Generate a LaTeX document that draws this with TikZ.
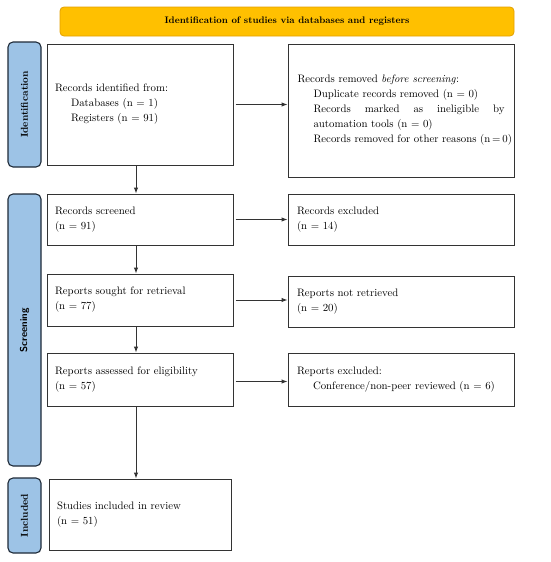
\documentclass[tikz,border=0pt]{standalone}
\usetikzlibrary{arrows.meta}
\definecolor{prismayel}{HTML}{FFC000}
\definecolor{prismaorg}{HTML}{E3A000}
\definecolor{prismablu}{HTML}{9DC3E6}
\definecolor{prismaedge}{HTML}{1E2A38}
\begin{document}
\begin{tikzpicture}[x=1pt,y=-1pt,
  font=\fontsize{10.8}{15}\selectfont,
  box/.style={draw=black!80,line width=1pt,fill=white,align=left,inner xsep=8pt,inner ysep=0pt},
  phase/.style={draw=prismaedge,line width=1.1pt,fill=prismablu,rounded corners=5pt,rotate=90,font=\fontsize{10}{12}\selectfont\bfseries,inner sep=0pt},
  arr/.style={line width=1pt,draw=black!80,-{Latex[length=6pt,width=4.5pt]}}]
\useasboundingbox (0,0) rectangle (550,562);
% header and phase labels
\node[draw=prismaorg,line width=.8pt,fill=prismayel,rounded corners=4pt,minimum width=454pt,minimum height=29pt,font=\fontsize{9.5}{12}\selectfont\bfseries] (head) at (287,21.5) {Identification of studies via databases and registers};
\node[phase,minimum width=125pt,minimum height=33pt] (idlab) at (24.5,104.5) {Identification};
\node[phase,minimum width=272pt,minimum height=33pt,font=\fontsize{10}{12}\selectfont\sffamily\bfseries] (scrlab) at (24.5,330) {Screening};
\node[phase,minimum width=75pt,minimum height=33pt] (inclab) at (24.5,515.5) {Included};
% left column
\node[box,text width=170pt,minimum height=121pt] (ident) at (140,104.5) {Records identified from:\\\hspace*{16pt}Databases (n = 1)\\\hspace*{16pt}Registers (n = 91)};
\node[box,text width=170pt,minimum height=51pt] (screen) at (140,219.5) {Records screened\\(n = 91)};
\node[box,text width=170pt,minimum height=52pt] (sought) at (140,300) {Reports sought for retrieval\\(n = 77)};
\node[box,text width=170pt,minimum height=53pt] (assess) at (140,379.5) {Reports assessed for eligibility\\(n = 57)};
\node[box,text width=166pt,minimum height=71pt] (incl) at (140,514.5) {Studies included in review\\(n = 51)};
% right column
\node[box,align=justify,inner xsep=9.5pt,text width=207pt,minimum height=133pt] (removed) at (401,110.5) {Records removed \textit{before screening}:\par
\leftskip=16pt Duplicate records removed (n = 0)\par
Records marked as ineligible by\linebreak automation tools (n = 0)\par
\mbox{Records removed for other reasons (n\,=\,0)}\par};
\node[box,inner xsep=9pt,text width=208pt,minimum height=51pt] (excl) at (401,219.5) {Records excluded\\(n = 14)};
\node[box,inner xsep=9pt,text width=208pt,minimum height=51pt] (notret) at (401,301.5) {Reports not retrieved\\(n = 20)};
\node[box,inner xsep=9pt,text width=208pt,minimum height=53pt] (rexcl) at (401,379.5) {Reports excluded:\\\hspace*{16pt}Conference/non-peer reviewed (n = 6)\\[2pt]};
% connectors
\draw[arr] ([xshift=2pt]ident.east) -- (ident.east -| removed.west);
\draw[arr] ([xshift=2pt]screen.east) -- (screen.east -| excl.west);
\draw[arr] ([xshift=2pt]sought.east) -- (sought.east -| notret.west);
\draw[arr] ([xshift=2pt,yshift=-2pt]assess.east) -- ([yshift=-2pt]assess.east -| rexcl.west);
\draw[arr] ([xshift=-4pt]ident.south) -- ([xshift=-4pt]ident.south |- screen.north);
\draw[arr] ([xshift=-4pt]screen.south) -- ([xshift=-4pt]screen.south |- sought.north);
\draw[arr] ([xshift=-4pt]sought.south) -- ([xshift=-4pt]sought.south |- assess.north);
\draw[arr] ([xshift=-4pt]assess.south) -- ([xshift=-4pt]assess.south |- incl.north);
\end{tikzpicture}
\end{document}
